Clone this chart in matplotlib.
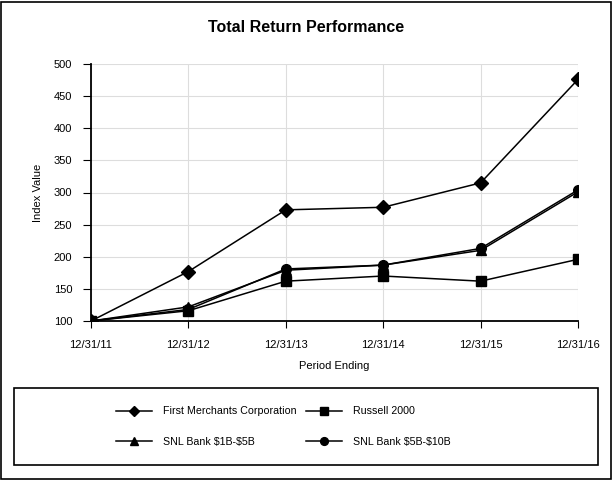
import matplotlib.pyplot as plt
from matplotlib.patches import Rectangle

plt.rcParams['font.family'] = ['Liberation Sans', 'DejaVu Sans']

periods = ["12/31/11", "12/31/12", "12/31/13", "12/31/14", "12/31/15", "12/31/16"]
first_merchants = [100, 177, 273, 277, 315, 476]
russell_2000 = [100, 116, 162, 170, 162, 196]
snl_1b_5b = [100, 122, 179, 187, 210, 301]
snl_5b_10b = [100, 118, 181, 187, 213, 304]

series = [
    ("First Merchants Corporation", first_merchants, "D", 7),
    ("Russell 2000", russell_2000, "s", 6.5),
    ("SNL Bank \\$1B-\\$5B", snl_1b_5b, "^", 6.5),
    ("SNL Bank \\$5B-\\$10B", snl_5b_10b, "o", 7),
]

fig = plt.figure(figsize=(6.13, 4.8), dpi=100)
fig.patches.append(Rectangle((0.002, 0.002), 0.994, 0.994, transform=fig.transFigure,
                             fill=False, ec="black", lw=1.2))

ax = fig.add_axes([91 / 613, 1 - 321 / 480, (578 - 91) / 613, (321 - 64) / 480])
x = list(range(len(periods)))
lines = []
for name, vals, mk, ms in series:
    ln, = ax.plot(x, vals, color="black", lw=1.1, marker=mk, ms=ms, label=name)
    lines.append(ln)

ax.set_xlim(0, 5)
ax.set_ylim(100, 500)
ax.set_yticks(range(100, 501, 50))
ax.set_xticks(x)
ax.set_xticklabels(periods)
ax.grid(True, color="#dddddd", lw=0.8)
ax.set_axisbelow(True)
for s in ["top", "right"]:
    ax.spines[s].set_visible(False)
for s in ["left", "bottom"]:
    ax.spines[s].set_linewidth(1.3)
ax.tick_params(labelsize=8, length=5, color="black", pad=8.5, axis="x")
ax.tick_params(labelsize=8, length=5.5, color="black", pad=8, axis="y")
ax.set_ylabel("Index Value", fontsize=8, labelpad=8)
ax.set_xlabel("Period Ending", fontsize=8, labelpad=8)
fig.text(0.5, 1 - 28 / 480, "Total Return Performance", fontsize=11.5,
         fontweight="bold", ha="center", va="center")

fig.patches.append(Rectangle((14 / 613, 1 - 465 / 480), (598 - 14) / 613, (465 - 388) / 480,
                             transform=fig.transFigure, fill=False, ec="black", lw=1.2))
# legend fills by column, so order entries to read row by row
order = [0, 2, 1, 3]
fig.legend([lines[i] for i in order], [series[i][0] for i in order], ncol=2,
           loc="center", bbox_to_anchor=(0.462, 1 - 426.5 / 480),
           frameon=False, fontsize=7.7, handlelength=3.4, columnspacing=0.9,
           labelspacing=1.9, handletextpad=1.0, markerscale=0.8)

fig.savefig("out.png", dpi=100)
